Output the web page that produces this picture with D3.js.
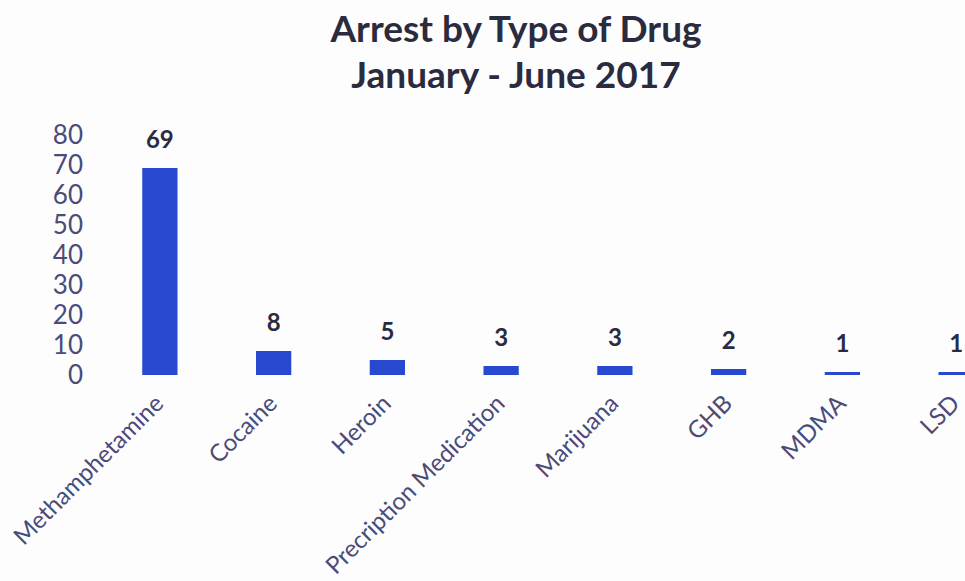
<!DOCTYPE html>
<html>
<head>
<meta charset="utf-8">
<title>Arrest by Type of Drug</title>
<script src="https://d3js.org/d3.v7.min.js"></script>
<style>
  body { margin: 0; background: #fdfdfe; }
  svg { display: block; font-family: Lato, "Open Sans", sans-serif; }
  .tick text { fill: #4b4b78; }
</style>
</head>
<body>
<script>
// chart data
const drugs = ["Methamphetamine", "Cocaine", "Heroin", "Precription Medication", "Marijuana", "GHB", "MDMA", "LSD"];
const arrests = [69, 8, 5, 3, 3, 2, 1, 1];
const yTicks = [0, 10, 20, 30, 40, 50, 60, 70, 80];
const titleLines = ["Arrest by Type of Drug", "January - June 2017"];

const w = 965, h = 581;
const base = 375;

const svg = d3.select("body").append("svg")
  .attr("width", w)
  .attr("height", h);

const x = d3.scaleBand()
  .domain(drugs)
  .range([103, 1013])
  .paddingInner(0.69)
  .paddingOuter(0.345);

const y = d3.scaleLinear()
  .domain([0, 80])
  .range([base, 135]);

// title
svg.selectAll("text.title")
  .data(titleLines)
  .enter()
  .append("text")
  .attr("class", "title")
  .attr("x", 516)
  .attr("y", (d, i) => 42 + i * 46)
  .attr("text-anchor", "middle")
  .attr("font-size", 37)
  .attr("font-weight", "bold")
  .attr("fill", "#2b2b3f")
  .text(d => d);

// y axis (labels only)
const yAxis = svg.append("g")
  .attr("transform", "translate(83,0)")
  .call(d3.axisLeft(y).tickValues(yTicks).tickSize(0).tickPadding(0));
yAxis.select(".domain").remove();
yAxis.selectAll("text").attr("font-size", 26).attr("font-family", "Lato, sans-serif");

// bars
svg.selectAll("rect.bar")
  .data(drugs)
  .enter()
  .append("rect")
  .attr("class", "bar")
  .attr("x", d => x(d))
  .attr("width", x.bandwidth())
  .attr("y", (d, i) => y(arrests[i]))
  .attr("height", (d, i) => base - y(arrests[i]))
  .attr("fill", "#2649d0");

// value labels
svg.selectAll("text.val")
  .data(drugs)
  .enter()
  .append("text")
  .attr("class", "val")
  .attr("x", d => x(d) + x.bandwidth() / 2)
  .attr("y", (d, i) => y(arrests[i]) - 20)
  .attr("text-anchor", "middle")
  .attr("font-size", 24)
  .attr("font-weight", "bold")
  .attr("fill", "#2b2b3f")
  .text((d, i) => arrests[i]);

// x axis labels, rotated
const xAxis = svg.append("g")
  .attr("transform", "translate(0," + base + ")")
  .call(d3.axisBottom(x).tickSize(0).tickPadding(0));
xAxis.select(".domain").remove();
xAxis.selectAll("text")
  .attr("font-size", 24)
  .attr("font-family", "Lato, sans-serif")
  .attr("text-anchor", "end")
  .attr("dy", 0)
  .attr("transform", "translate(5,30) rotate(-45)");
</script>
</body>
</html>
